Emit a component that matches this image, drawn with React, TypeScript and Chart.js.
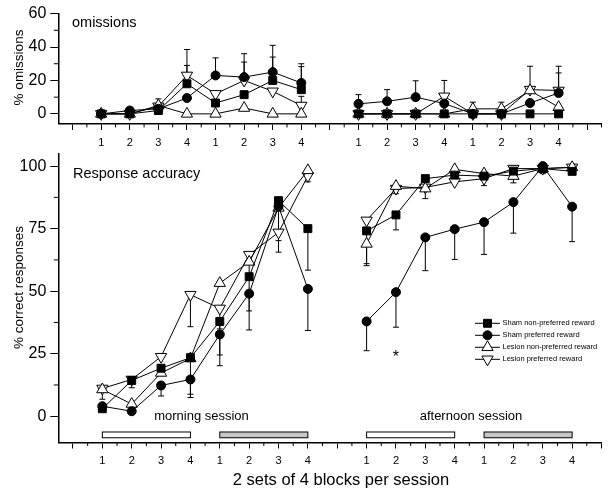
import React, { useEffect, useRef } from 'react';
import { Chart, registerables } from 'chart.js';

Chart.register(...registerables);

const FONT = '"Liberation Sans", Arial, Helvetica, sans-serif';

// block positions: morning sets at 1..8, afternoon sets at 10..17
const blockLabels = ['1', '2', '3', '4', '1', '2', '3', '4'];
const morningX = [1, 2, 3, 4, 5, 6, 7, 8];
const afternoonX = [10, 11, 12, 13, 14, 15, 16, 17];
const seriesNames = [
  'Sham non-preferred reward',
  'Sham preferred reward',
  'Lesion non-preferred reward',
  'Lesion preferred reward',
];

// % omissions (morning 8 blocks, afternoon 8 blocks)
const omShamNonPref = [0, 0, 2, 18, 6.5, 11.5, 20, 14.5, 0, 0, 0, 0, 0, 0, 0, 0];
const omShamPref = [0, 2, 3, 9.5, 23, 22, 25, 18.5, 6, 7.5, 10, 6.2, 0, 0, 6.5, 12.5];
const omLesionNonPref = [0, 0, 5, 0, 0, 3.5, 0, 0, 0, 0, 0, 0, 3, 3, 14, 4];
const omLesionPref = [0, 0, 4.5, 23, 12, 20, 13.5, 5, 0, 0, 0, 10.5, 0, 0, 14.5, 14];
// error bar ends (omissions)
const omErrShamNonPref = [null, null, null, 29, null, null, 34, 28.3, null, null, null, null, null, null, null, null];
const omErrShamPref = [null, null, null, null, 33.5, 36, 41, 30, 11.5, 14.5, 19.8, null, null, null, null, 24.5];
const omErrLesionNonPref = [null, null, 9, null, null, null, null, null, null, null, null, null, 7, 7, null, null];
const omErrLesionPref = [null, null, null, 38.5, null, 31, null, 10.5, null, null, null, 20, null, null, 28.5, 28.5];

// % correct responses
const accShamNonPref = [3, 14.3, 19.2, 23.4, 37.9, 55.8, 86.2, 75, 74.1, 80.5, 95, 96.4, 96, 98, 99, 97.9];
const accShamPref = [4, 2, 12.3, 14.7, 32.7, 49, 83.9, 50.9, 37.9, 49.6, 71.5, 74.8, 77.6, 85.6, 100, 83.8];
const accLesionNonPref = [10.7, 4.9, 17.3, 23.1, 53.2, 61.7, 83.3, 98.3, 68.9, 92, 91, 98.7, 97, 96, 99, 99.5];
const accLesionPref = [11.1, 14.7, 23.8, 48.6, 43.1, 64.6, 73.5, 96.1, 78.3, 91, 91.5, 93.7, 95, 99, 99, 99.5];
// error bar ends (accuracy)
const accErrShamNonPref = [null, null, null, null, 24.5, null, null, 58.4, 61, 74.5, null, null, null, null, null, null];
const accErrShamPref = [null, null, 8.1, 7.5, 20.2, 34.5, null, 34.3, 26.2, 35.6, 58.2, 62.7, 64.7, 73.2, null, 69.8];
const accErrLesionNonPref = [6.8, null, null, 8.8, null, 42.1, 70.2, null, 60.2, 89, 87, null, null, null, null, null];
const accErrLesionPref = [null, 11.4, null, 35.8, 34.9, null, 65.6, 93.7, null, null, null, null, 92.2, 93.3, 97, null];

// session bars (x ranges) and their fill
const setBars = [
  { from: 1, to: 4, fill: '#ffffff' },
  { from: 5, to: 8, fill: '#c8c8c8' },
  { from: 10, to: 13, fill: '#ffffff' },
  { from: 14, to: 17, fill: '#c8c8c8' },
];
const barYTop = -6.3;
const barYBottom = -8.6;

const topYTicks = [0, 20, 40, 60];
const topYMinor = [10, 30, 50];
const botYTicks = [0, 25, 50, 75, 100];
const botYMinor = [12.5, 37.5, 62.5, 87.5];

const markerStyles = [
  { pointStyle: 'rect', radius: 5.6, bg: '#000000', rotation: 0 },
  { pointStyle: 'circle', radius: 4.5, bg: '#000000', rotation: 0 },
  { pointStyle: 'triangle', radius: 6.5, bg: '#ffffff', rotation: 0 },
  { pointStyle: 'triangle', radius: 6.5, bg: '#ffffff', rotation: 180 },
];

function toPoints(vals: number[], errs: (number | null)[]) {
  const pts: any[] = [];
  vals.forEach((v, k) => {
    if (k === 8) pts.push({ x: 9, y: null, e: null });
    pts.push({ x: k < 8 ? morningX[k] : afternoonX[k - 8], y: v, e: errs[k] });
  });
  return pts;
}

function makeDatasets(vals: number[][], errs: (number | null)[][]) {
  return vals.map((v, i) => {
    const st = markerStyles[i];
    return {
      label: seriesNames[i],
      data: toPoints(v, errs[i]),
      borderColor: '#000',
      borderWidth: 1,
      pointStyle: st.pointStyle,
      pointRadius: st.radius,
      pointRotation: st.rotation,
      pointBackgroundColor: st.bg,
      pointBorderColor: '#000',
      pointBorderWidth: 1,
      spanGaps: false,
      tension: 0,
      fill: false,
    };
  });
}

function xLabel(v: number) {
  if (v >= 1 && v <= 8) return blockLabels[v - 1];
  if (v >= 10 && v <= 17) return blockLabels[v - 10];
  return '';
}

function drawMarker(ctx: CanvasRenderingContext2D, st: any, x: number, y: number) {
  ctx.beginPath();
  if (st.pointStyle === 'rect') {
    const s = st.radius * Math.SQRT1_2;
    ctx.rect(x - s, y - s, 2 * s, 2 * s);
  } else if (st.pointStyle === 'circle') {
    ctx.arc(x, y, st.radius, 0, Math.PI * 2);
  } else {
    let rad = (st.rotation * Math.PI) / 180;
    for (let i = 0; i < 3; i++) {
      const px = x + Math.sin(rad) * st.radius;
      const py = y - Math.cos(rad) * st.radius;
      if (i === 0) ctx.moveTo(px, py);
      else ctx.lineTo(px, py);
      rad += (2 * Math.PI) / 3;
    }
    ctx.closePath();
  }
  ctx.fillStyle = st.bg;
  ctx.fill();
  ctx.strokeStyle = '#000';
  ctx.lineWidth = 1;
  ctx.stroke();
}

const errorBarPlugin = {
  id: 'errorBars',
  beforeDatasetsDraw(chart: any) {
    const ctx = chart.ctx;
    const xs = chart.scales.x;
    const ys = chart.scales.y;
    ctx.save();
    ctx.strokeStyle = '#000';
    ctx.lineWidth = 1;
    chart.data.datasets.forEach((ds: any) => {
      ds.data.forEach((p: any) => {
        if (p.y == null || p.e == null) return;
        const px = xs.getPixelForValue(p.x);
        const py = ys.getPixelForValue(p.y);
        const pe = ys.getPixelForValue(p.e);
        ctx.beginPath();
        ctx.moveTo(px, py);
        ctx.lineTo(px, pe);
        ctx.moveTo(px - 3, pe);
        ctx.lineTo(px + 3, pe);
        ctx.stroke();
      });
    });
    ctx.restore();
  },
};

function minorTicksPlugin(yMinor: number[], xMax: number) {
  return {
    id: 'minorTicks',
    afterDraw(chart: any) {
      const ctx = chart.ctx;
      const xs = chart.scales.x;
      const ys = chart.scales.y;
      const a = chart.chartArea;
      ctx.save();
      ctx.strokeStyle = '#000';
      ctx.lineWidth = 1;
      ctx.beginPath();
      for (let v = 0.5; v <= xMax + 0.001; v += 1) {
        const px = xs.getPixelForValue(v);
        ctx.moveTo(px, a.bottom);
        ctx.lineTo(px, a.bottom + 3.5);
      }
      yMinor.forEach((v) => {
        const py = ys.getPixelForValue(v);
        ctx.moveTo(a.left, py);
        ctx.lineTo(a.left - 4.5, py);
      });
      ctx.stroke();
      ctx.restore();
    },
  };
}

function textPlugin(draw: (chart: any, ctx: CanvasRenderingContext2D) => void) {
  return {
    id: 'texts',
    afterDraw(chart: any) {
      const ctx = chart.ctx;
      ctx.save();
      ctx.fillStyle = '#000';
      draw(chart, ctx);
      ctx.restore();
    },
  };
}

function scales(opts: {
  xMax: number; yMin: number; yMax: number; yTicks: number[];
  width: number; height: number; xPad: number;
}) {
  return {
    x: {
      type: 'linear',
      min: -0.5,
      max: opts.xMax,
      afterBuildTicks: (s: any) => {
        const t = [];
        for (let v = 0; v <= Math.floor(opts.xMax); v++) t.push({ value: v });
        s.ticks = t;
      },
      afterFit: (s: any) => { s.height = opts.height; },
      ticks: {
        autoSkip: false, maxRotation: 0, minRotation: 0, padding: opts.xPad, color: '#000',
        font: { family: FONT, size: 11 },
        callback: (v: any) => xLabel(Number(v)),
      },
      grid: { drawOnChartArea: false, drawTicks: true, tickLength: 6, tickColor: '#000', tickWidth: 1 },
      border: { display: true, color: '#000', width: 1.5 },
    },
    y: {
      type: 'linear',
      min: opts.yMin,
      max: opts.yMax,
      afterBuildTicks: (s: any) => { s.ticks = opts.yTicks.map((v) => ({ value: v })); },
      afterFit: (s: any) => { s.width = opts.width; },
      ticks: { padding: 4, color: '#000', font: { family: FONT, size: 16 } },
      grid: { drawOnChartArea: false, drawTicks: true, tickLength: 8, tickColor: '#000', tickWidth: 1 },
      border: { display: true, color: '#000', width: 1.5 },
    },
  };
}

export default function App() {
  const topRef = useRef<HTMLCanvasElement>(null);
  const botRef = useRef<HTMLCanvasElement>(null);

  useEffect(() => {
    const topChart = new Chart(topRef.current as HTMLCanvasElement, {
      type: 'line',
      data: {
        datasets: makeDatasets(
          [omShamNonPref, omShamPref, omLesionNonPref, omLesionPref],
          [omErrShamNonPref, omErrShamPref, omErrLesionNonPref, omErrLesionPref]
        ) as any,
      },
      options: {
        responsive: false,
        animation: false,
        events: [],
        layout: { padding: { left: 0, right: 2.3, top: 7.5, bottom: 0 } },
        plugins: { legend: { display: false }, tooltip: { enabled: false }, title: { display: false } },
        scales: scales({ xMax: 18.5, yMin: -6, yMax: 60, yTicks: topYTicks, width: 58.3, height: 26.1, xPad: 6 }) as any,
      },
      plugins: [
        errorBarPlugin,
        minorTicksPlugin(topYMinor, 18.5),
        textPlugin((chart, ctx) => {
          ctx.font = `14.5px ${FONT}`;
          ctx.textAlign = 'left';
          ctx.textBaseline = 'alphabetic';
          ctx.fillText('omissions', 72, 27);
          ctx.save();
          ctx.font = `13.5px ${FONT}`;
          ctx.translate(22.5, 67.5);
          ctx.rotate(-Math.PI / 2);
          ctx.textAlign = 'center';
          ctx.fillText('% omissions', 0, 0);
          ctx.restore();
        }),
      ],
    } as any);

    const botChart = new Chart(botRef.current as HTMLCanvasElement, {
      type: 'line',
      data: {
        datasets: makeDatasets(
          [accShamNonPref, accShamPref, accLesionNonPref, accLesionPref],
          [accErrShamNonPref, accErrShamPref, accErrLesionNonPref, accErrLesionPref]
        ) as any,
      },
      options: {
        responsive: false,
        animation: false,
        events: [],
        layout: { padding: { left: 0, right: 2.3, top: 8, bottom: 0 } },
        plugins: { legend: { display: false }, tooltip: { enabled: false }, title: { display: false } },
        scales: scales({ xMax: 18, yMin: -10.5, yMax: 105, yTicks: botYTicks, width: 58.3, height: 46.5, xPad: 5.5 }) as any,
      },
      plugins: [
        errorBarPlugin,
        minorTicksPlugin(botYMinor, 17.5),
        {
          id: 'setBars',
          beforeDatasetsDraw(chart: any) {
            const ctx = chart.ctx;
            const xs = chart.scales.x;
            const ys = chart.scales.y;
            ctx.save();
            setBars.forEach((b) => {
              const x0 = xs.getPixelForValue(b.from);
              const x1 = xs.getPixelForValue(b.to);
              const y0 = ys.getPixelForValue(barYTop);
              const y1 = ys.getPixelForValue(barYBottom);
              ctx.fillStyle = b.fill;
              ctx.fillRect(x0, y0, x1 - x0, y1 - y0);
              ctx.strokeStyle = '#000';
              ctx.lineWidth = 1;
              ctx.strokeRect(x0, y0, x1 - x0, y1 - y0);
            });
            ctx.restore();
          },
        },
        textPlugin((chart, ctx) => {
          const xs = chart.scales.x;
          const ys = chart.scales.y;
          ctx.textBaseline = 'alphabetic';
          ctx.font = `14.5px ${FONT}`;
          ctx.textAlign = 'left';
          ctx.fillText('Response accuracy', 73, 38);

          ctx.font = `13px ${FONT}`;
          ctx.textAlign = 'center';
          ctx.fillText('morning session', 201.5, 280);
          ctx.fillText('afternoon session', 471, 280);

          ctx.font = `16.5px ${FONT}`;
          ctx.fillText('2 sets of 4 blocks per session', 341, 345);

          ctx.font = `16px ${FONT}`;
          ctx.fillText('*', xs.getPixelForValue(11), ys.getPixelForValue(21.5));

          ctx.save();
          ctx.font = `13.5px ${FONT}`;
          ctx.translate(22.5, 147.5);
          ctx.rotate(-Math.PI / 2);
          ctx.textAlign = 'center';
          ctx.fillText('% correct responses', 0, 0);
          ctx.restore();

          // legend
          ctx.font = `7.5px ${FONT}`;
          ctx.textAlign = 'left';
          ctx.textBaseline = 'middle';
          seriesNames.forEach((name, i) => {
            const y = 183.3 + i * 12;
            ctx.strokeStyle = '#000';
            ctx.lineWidth = 1;
            ctx.beginPath();
            ctx.moveTo(475, y);
            ctx.lineTo(500, y);
            ctx.stroke();
            drawMarker(ctx, markerStyles[i], 487.5, y);
            ctx.fillStyle = '#000';
            ctx.fillText(name, 502.5, y);
          });
        }),
      ],
    } as any);

    return () => {
      topChart.destroy();
      botChart.destroy();
    };
  }, []);

  return (
    <div style={{ position: 'absolute', left: 0, top: 0, width: 609, height: 489, background: '#fff' }}>
      <canvas ref={topRef} width={609} height={150} style={{ position: 'absolute', left: 0, top: 0, width: 609, height: 150 }} />
      <canvas ref={botRef} width={609} height={349} style={{ position: 'absolute', left: 0, top: 140, width: 609, height: 349 }} />
    </div>
  );
}
